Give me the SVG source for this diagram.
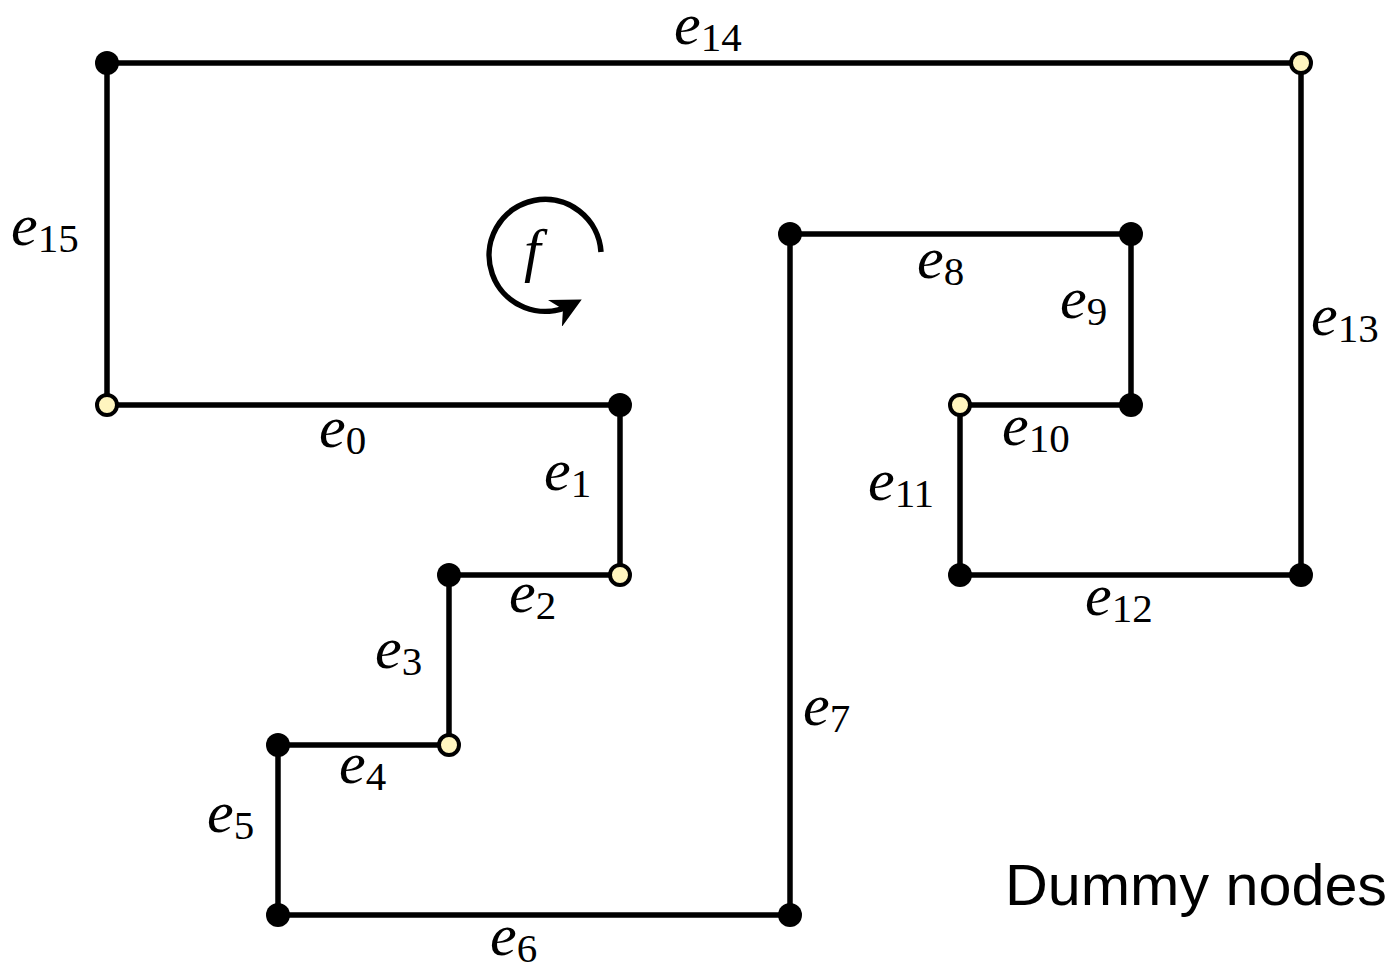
<svg xmlns="http://www.w3.org/2000/svg" width="1397" height="970" viewBox="0 0 1397 970">
<defs>
<style>
.edge{stroke:#000;stroke-width:5.5;fill:none}
.blk{fill:#000}
.dum{fill:#fff5bf;stroke:#000;stroke-width:4}
.lbl{font-family:"Liberation Serif","Times New Roman","DejaVu Serif",serif;font-style:italic;font-size:60px;fill:#000}
.sub{font-family:"Liberation Serif","Times New Roman","DejaVu Serif",serif;font-style:normal;font-size:41px}
.txt{font-family:"Liberation Sans",Arial,sans-serif;font-size:58px;fill:#000}
</style>
<marker id="ah" viewBox="0 0 10 10" refX="6" refY="5" markerWidth="5.5" markerHeight="5.5" orient="auto" markerUnits="strokeWidth">
<path d="M0,0 L10,5 L0,10 L3,5 z" fill="#000"/>
</marker>
</defs>
<rect width="1397" height="970" fill="#fff"/>
<g id="connectors">
<path class="edge" d="M107,405 H620 V575 H449 V745 H278 V915 H790 V234 H1131 V405 H960 V575 H1301 V63 H107 Z"/>
<path class="edge" stroke-width="4.5" d="M601,252 A56,56 0 1 0 571,305" marker-end="url(#ah)"/>
</g>
<g id="nA"><circle class="blk" cx="107" cy="63" r="12"/></g>
<g id="nB"><circle class="dum" cx="1301" cy="63" r="10"/></g>
<g id="nC"><circle class="dum" cx="107" cy="405" r="10"/></g>
<g id="nD"><circle class="blk" cx="620" cy="405" r="12"/></g>
<g id="nE"><circle class="dum" cx="620" cy="575" r="10"/></g>
<g id="nF"><circle class="blk" cx="449" cy="575" r="12"/></g>
<g id="nG"><circle class="dum" cx="449" cy="745" r="10"/></g>
<g id="nH"><circle class="blk" cx="278" cy="745" r="12"/></g>
<g id="nI"><circle class="blk" cx="278" cy="915" r="12"/></g>
<g id="nJ"><circle class="blk" cx="790" cy="915" r="12"/></g>
<g id="nK"><circle class="blk" cx="790" cy="234" r="12"/></g>
<g id="nL"><circle class="blk" cx="1131" cy="234" r="12"/></g>
<g id="nM"><circle class="blk" cx="1131" cy="405" r="12"/></g>
<g id="nN"><circle class="dum" cx="960" cy="405" r="10"/></g>
<g id="nO"><circle class="blk" cx="960" cy="575" r="12"/></g>
<g id="nP"><circle class="blk" cx="1301" cy="575" r="12"/></g>
<g id="labels">
<text class="lbl" x="674" y="44">e<tspan class="sub" dy="7">14</tspan></text>
<text class="lbl" x="11" y="245">e<tspan class="sub" dy="7">15</tspan></text>
<text class="lbl" x="319" y="447">e<tspan class="sub" dy="7">0</tspan></text>
<text class="lbl" x="544" y="490">e<tspan class="sub" dy="7">1</tspan></text>
<text class="lbl" x="509" y="612">e<tspan class="sub" dy="7">2</tspan></text>
<text class="lbl" x="375" y="668">e<tspan class="sub" dy="7">3</tspan></text>
<text class="lbl" x="339" y="783">e<tspan class="sub" dy="7">4</tspan></text>
<text class="lbl" x="207" y="832">e<tspan class="sub" dy="7">5</tspan></text>
<text class="lbl" x="490" y="955">e<tspan class="sub" dy="7">6</tspan></text>
<text class="lbl" x="803" y="725">e<tspan class="sub" dy="7">7</tspan></text>
<text class="lbl" x="917" y="278">e<tspan class="sub" dy="7">8</tspan></text>
<text class="lbl" x="1060" y="318">e<tspan class="sub" dy="7">9</tspan></text>
<text class="lbl" x="1002" y="445">e<tspan class="sub" dy="7">10</tspan></text>
<text class="lbl" x="868" y="500">e<tspan class="sub" dy="7">11</tspan></text>
<text class="lbl" x="1085" y="615">e<tspan class="sub" dy="7">12</tspan></text>
<text class="lbl" x="1311" y="335">e<tspan class="sub" dy="7">13</tspan></text>
<text class="lbl" x="524" y="270">f</text>
<text class="txt" x="1005" y="905" textLength="382" lengthAdjust="spacingAndGlyphs">Dummy nodes</text>
</g>
</svg>
